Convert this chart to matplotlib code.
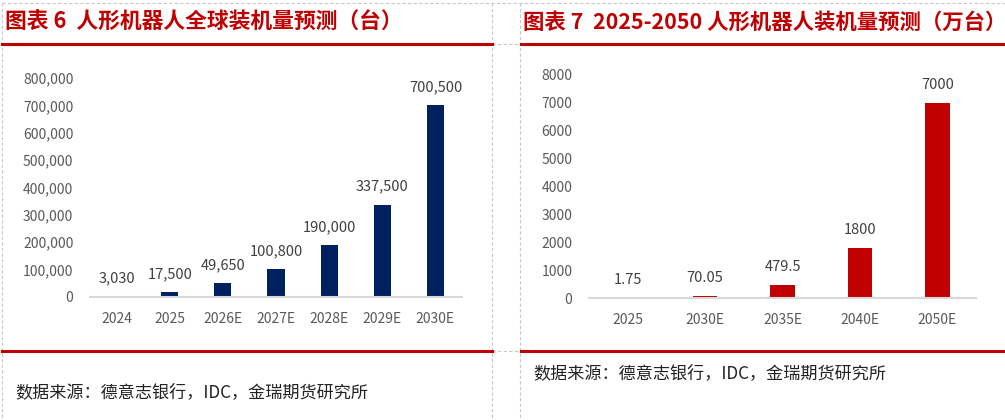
import matplotlib
matplotlib.use('Agg')
import matplotlib.pyplot as plt
from matplotlib.lines import Line2D

plt.rcParams['font.family'] = ['Noto Sans CJK SC', 'DejaVu Sans']

# Chart data
left_title = '图表 6  人形机器人全球装机量预测（台）'
left_cats = ['2024', '2025', '2026E', '2027E', '2028E', '2029E', '2030E']
left_vals = [3030, 17500, 49650, 100800, 190000, 337500, 700500]

right_title = '图表 7  2025-2050 人形机器人装机量预测（万台）'
right_cats = ['2025', '2030E', '2035E', '2040E', '2050E']
right_vals = [1.75, 70.05, 479.5, 1800, 7000]
right_labels = ['1.75', '70.05', '479.5', '1800', '7000']

source = '数据来源：德意志银行，IDC，金瑞期货研究所'

W, H = 1005, 420
RED = '#C00000'
NAVY = '#002060'
GRID = '#C8C8C8'
TXT = '#595959'

fig = plt.figure(figsize=(W / 100, H / 100), dpi=100)


def px(x, y):
    # pixel coords (top-left origin) -> figure fraction
    return x / W, 1 - y / H


def hline(y, x0, x1, **kw):
    a, b = px(x0, y)
    c, _ = px(x1, y)
    fig.add_artist(Line2D([a, c], [b, b], transform=fig.transFigure, **kw))


def vline(x, y0, y1, **kw):
    a, b = px(x, y0)
    _, d = px(x, y1)
    fig.add_artist(Line2D([a, a], [b, d], transform=fig.transFigure, **kw))


# dashed frame lines
dash = dict(color=GRID, lw=0.8, ls=(0, (3, 2)))
hline(3, 2, 1005, **dash)
vline(2, 3, 420, **dash)
vline(492, 3, 420, **dash)
vline(520, 3, 420, **dash)
hline(44, 492, 520, **dash)
hline(351, 492, 520, **dash)

# red rules
for y in (44, 351):
    hline(y, 2, 492, color=RED, lw=2.2)
    hline(y, 521, 1005, color=RED, lw=2.2)

# titles
fig.text(*px(5, 22), left_title, color=RED, fontsize=15.7, fontweight='bold', va='center', ha='left')
fig.text(*px(523, 22), right_title, color=RED, fontsize=15.4, fontweight='bold', va='center', ha='left')

# footers
fig.text(*px(15, 392), source, color='#222222', fontsize=12.3, style='italic', va='center', ha='left')
fig.text(*px(533, 373), source, color='#222222', fontsize=12.3, style='italic', va='center', ha='left')


def make_axes(x0, x1, ytop, ybot):
    l, b = px(x0, ybot)
    r, t = px(x1, ytop)
    return fig.add_axes([l, b, r - l, t - b])


def style(ax, n):
    ax.set_xlim(-0.5, n - 0.5)
    for s in ('top', 'right', 'left'):
        ax.spines[s].set_visible(False)
    ax.spines['bottom'].set_color('#D9D9D9')
    ax.spines['bottom'].set_linewidth(1.5)
    ax.tick_params(axis='both', length=0, colors=TXT, labelsize=10)
    ax.tick_params(axis='x', pad=11)
    ax.tick_params(axis='y', pad=12)
    ax.patch.set_alpha(0)


# left chart
ax1 = make_axes(90, 462, 78, 297)
ax1.bar(range(len(left_cats)), left_vals, width=0.32, color=NAVY)
ax1.set_ylim(0, 800000)
ax1.set_yticks(range(0, 800001, 100000))
ax1.set_yticklabels([f'{v:,}' for v in range(0, 800001, 100000)])
ax1.set_xticks(range(len(left_cats)))
ax1.set_xticklabels(left_cats)
style(ax1, len(left_cats))
for i, v in enumerate(left_vals):
    ax1.annotate(f'{v:,}', (i, v), xytext=(0, 8), textcoords='offset points',
                 ha='center', va='bottom', fontsize=10.5, color='#404040')

# right chart
ax2 = make_axes(589, 976, 75, 298)
ax2.bar(range(len(right_cats)), right_vals, width=0.32, color=RED)
ax2.set_ylim(0, 8000)
ax2.set_yticks(range(0, 8001, 1000))
ax2.set_xticks(range(len(right_cats)))
ax2.set_xticklabels(right_cats)
style(ax2, len(right_cats))
for i, v in enumerate(right_vals):
    ax2.annotate(right_labels[i], (i, v), xytext=(0, 8), textcoords='offset points',
                 ha='center', va='bottom', fontsize=10.5, color='#404040')

fig.savefig('out.png', dpi=100)
